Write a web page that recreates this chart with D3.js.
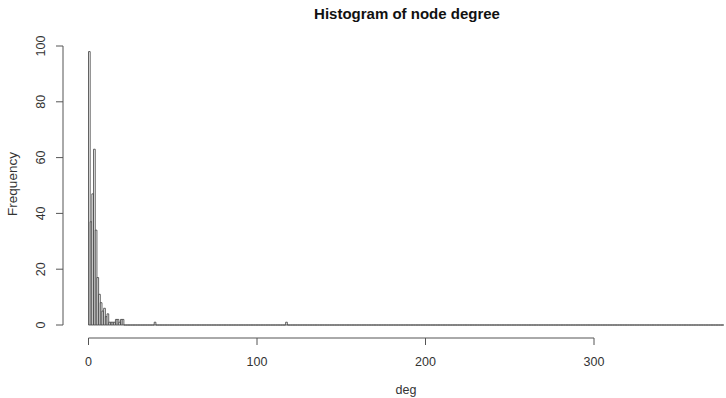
<!DOCTYPE html>
<html>
<head>
<meta charset="utf-8">
<script src="https://cdn.jsdelivr.net/npm/d3@7"></script>
<style>
  body { margin: 0; background: #fff; }
  svg { font-family: "Liberation Sans", Arial, sans-serif; }
</style>
</head>
<body>
<div id="chart"></div>
<script>
// histogram of node degree, bins of width 1
const binStarts = [0, 1, 2, 3, 4, 5, 6, 7, 8, 9, 10, 11, 12, 13, 14, 15, 16, 17, 18, 19, 20, 39, 117];
const counts    = [98, 37, 47, 63, 34, 17, 11, 8, 5, 6, 3, 4, 1, 1, 1, 1, 2, 2, 1, 2, 2, 1, 1];
const lastBreak = 377;
const xTicks = [0, 100, 200, 300];
const yTicks = [0, 20, 40, 60, 80, 100];

const width = 726, height = 398;

const svg = d3.select('#chart')
  .append('svg')
  .attr('width', width)
  .attr('height', height);

const x = d3.scaleLinear().domain([0, 300]).range([88.5, 594]);
const y = d3.scaleLinear().domain([0, 100]).range([325, 46]);

const countOf = new Map(binStarts.map((b, i) => [b, counts[i]]));
const bins = d3.range(0, lastBreak).map(b => ({ x0: b, x1: b + 1, n: countOf.get(b) || 0 }));

// bars as closed paths, so the empty bins still draw the baseline like R does
svg.append('g')
  .selectAll('path')
  .data(bins)
  .enter()
  .append('path')
  .attr('d', d => {
    const p = d3.path();
    p.rect(x(d.x0), y(d.n), x(d.x1) - x(d.x0), y(0) - y(d.n));
    return p.toString();
  })
  .style('fill', d => d.n ? '#fff' : 'none')
  .style('stroke', '#3a3a3a')
  .style('stroke-width', 0.8);

// x axis, R style
const xAxis = svg.append('g').attr('transform', 'translate(0,338)');
xAxis.append('line')
  .attr('x1', x(xTicks[0])).attr('x2', x(xTicks[xTicks.length - 1]))
  .style('stroke', '#555');
xAxis.selectAll('.tick')
  .data(xTicks)
  .enter()
  .append('line')
  .attr('x1', d => x(d)).attr('x2', d => x(d))
  .attr('y1', 0).attr('y2', 7)
  .style('stroke', '#555');
xAxis.selectAll('text')
  .data(xTicks)
  .enter()
  .append('text')
  .attr('x', d => x(d))
  .attr('y', 28)
  .attr('text-anchor', 'middle')
  .style('font-size', '12.5px')
  .style('fill', '#333')
  .text(d => d);

// y axis
const yAxis = svg.append('g').attr('transform', 'translate(63,0)');
yAxis.append('line')
  .attr('y1', y(yTicks[0])).attr('y2', y(yTicks[yTicks.length - 1]))
  .style('stroke', '#555');
yAxis.selectAll('.tick')
  .data(yTicks)
  .enter()
  .append('line')
  .attr('y1', d => y(d)).attr('y2', d => y(d))
  .attr('x1', 0).attr('x2', -7)
  .style('stroke', '#555');
yAxis.selectAll('text')
  .data(yTicks)
  .enter()
  .append('text')
  .attr('transform', d => `translate(-18,${y(d)}) rotate(-90)`)
  .attr('text-anchor', 'middle')
  .style('font-size', '12.5px')
  .style('fill', '#333')
  .text(d => d);

// labels
svg.append('text')
  .attr('x', 407).attr('y', 19)
  .attr('text-anchor', 'middle')
  .style('font-size', '15px')
  .style('font-weight', 'bold')
  .style('fill', '#111')
  .text('Histogram of node degree');

svg.append('text')
  .attr('x', 406).attr('y', 394)
  .attr('text-anchor', 'middle')
  .style('font-size', '12.5px')
  .style('fill', '#333')
  .text('deg');

svg.append('text')
  .attr('transform', 'translate(17,184) rotate(-90)')
  .attr('text-anchor', 'middle')
  .style('font-size', '13.5px')
  .style('fill', '#333')
  .text('Frequency');
</script>
</body>
</html>
